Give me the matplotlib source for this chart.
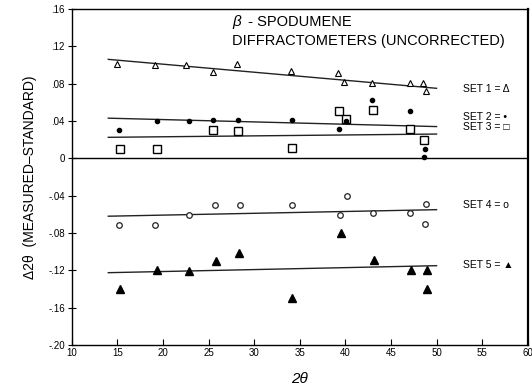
import numpy as np
import matplotlib
matplotlib.use('Agg')
import matplotlib.pyplot as plt

plt.rcParams['font.family'] = ['Liberation Sans', 'DejaVu Sans']

# ─────────────────────────────────────────
# Measured minus standard 2-theta, per instrument set
# ─────────────────────────────────────────
set1_x = [15.0, 19.1, 22.5, 25.5, 28.1, 34.0, 39.2, 39.9, 42.9, 47.1, 48.5, 48.8]
set1_y = [0.101, 0.100, 0.100, 0.092, 0.101, 0.093, 0.091, 0.082, 0.081, 0.081, 0.081, 0.072]

set2_x = [15.2, 19.3, 22.8, 25.5, 28.2, 34.1, 39.3, 40.1, 42.9, 47.1, 48.7, 48.6]
set2_y = [0.030, 0.040, 0.040, 0.041, 0.041, 0.041, 0.031, 0.040, 0.062, 0.051, 0.010, 0.001]

set3_x = [15.3, 19.3, 25.5, 28.2, 34.1, 39.3, 40.1, 43.0, 47.1, 48.6]
set3_y = [0.010, 0.010, 0.030, 0.029, 0.011, 0.051, 0.042, 0.052, 0.031, 0.020]

set4_x = [15.2, 19.1, 22.8, 25.7, 28.4, 34.2, 39.4, 40.2, 43.0, 47.1, 48.8, 48.7]
set4_y = [-0.071, -0.071, -0.061, -0.050, -0.050, -0.050, -0.061, -0.040, -0.059, -0.059, -0.049, -0.070]

set5_x = [15.3, 19.3, 22.8, 25.8, 28.3, 34.2, 39.5, 43.1, 47.2, 48.9, 48.9]
set5_y = [-0.140, -0.120, -0.121, -0.110, -0.101, -0.150, -0.080, -0.109, -0.120, -0.120, -0.140]

# fitted trend lines (end points at 2-theta = 14 and 50)
fit_x = [14, 50]
fit1_y = [0.106, 0.075]
fit2_y = [0.043, 0.034]
fit3_y = [0.0225, 0.026]
fit4_y = [-0.062, -0.055]
fit5_y = [-0.1225, -0.115]

y_ticks = [0.16, 0.12, 0.08, 0.04, 0.0, -0.04, -0.08, -0.12, -0.16, -0.20]
y_tick_labels = ['.16', '.12', '.08', '.04', '0', '-.04', '-.08', '-.12', '-.16', '-.20']
x_ticks = [10, 15, 20, 25, 30, 35, 40, 45, 50, 55, 60]

legend_labels = ['SET 1 = \u0394', 'SET 2 = \u2022', 'SET 3 = \u25a1',
                 'SET 4 = \u03bf', 'SET 5 = \u25b2']
legend_y = [0.074, 0.044, 0.034, -0.050, -0.114]

# ─────────────────────────────────────────
# Plot
# ─────────────────────────────────────────
fig = plt.figure(figsize=(5.32, 3.89), dpi=100)
ax = fig.add_axes([0.135, 0.113, 0.857, 0.864])

for fy in [fit1_y, fit2_y, fit3_y, fit4_y, fit5_y]:
    ax.plot(fit_x, fy, color='#222222', lw=1.0, zorder=2)

ax.plot(set1_x, set1_y, ls='none', marker='^', ms=5, mfc='white', mec='black', mew=0.8, zorder=3)
ax.plot(set2_x, set2_y, ls='none', marker='o', ms=3, mfc='black', mec='black', zorder=4)
ax.plot(set3_x, set3_y, ls='none', marker='s', ms=6, mfc='white', mec='black', mew=1.0, zorder=3)
ax.plot(set4_x, set4_y, ls='none', marker='o', ms=4, mfc='white', mec='#222222', mew=0.9, zorder=3)
ax.plot(set5_x, set5_y, ls='none', marker='^', ms=6, mfc='black', mec='black', zorder=3)

ax.axhline(0, color='black', lw=1.0, zorder=1)

for lab, ly in zip(legend_labels, legend_y):
    ax.text(52.9, ly, lab, fontsize=7.5, va='center', ha='left')

ax.text(27.6, 0.146, '\u03b2', fontsize=11, style='italic', va='center')
ax.text(28.9, 0.146, ' - SPODUMENE', fontsize=10.5, va='center')
ax.text(27.6, 0.126, 'DIFFRACTOMETERS (UNCORRECTED)', fontsize=10.5, va='center')

ax.set_xlim(10, 60)
ax.set_ylim(-0.20, 0.16)
ax.set_xticks(x_ticks)
ax.set_yticks(y_ticks)
ax.set_yticklabels(y_tick_labels)
ax.tick_params(axis='x', direction='in', length=4, labelsize=7, pad=2)
ax.tick_params(axis='y', direction='inout', length=6, labelsize=7, pad=2)

ax.set_xlabel('2\u03b8', fontsize=11, style='italic', labelpad=10)
ax.set_ylabel('\u03942\u03b8  (MEASURED\u2013STANDARD)', fontsize=10, labelpad=8)

for sp in ax.spines.values():
    sp.set_linewidth(1.0)
ax.spines['right'].set_linewidth(1.6)

fig.savefig('out.png', dpi=100)
